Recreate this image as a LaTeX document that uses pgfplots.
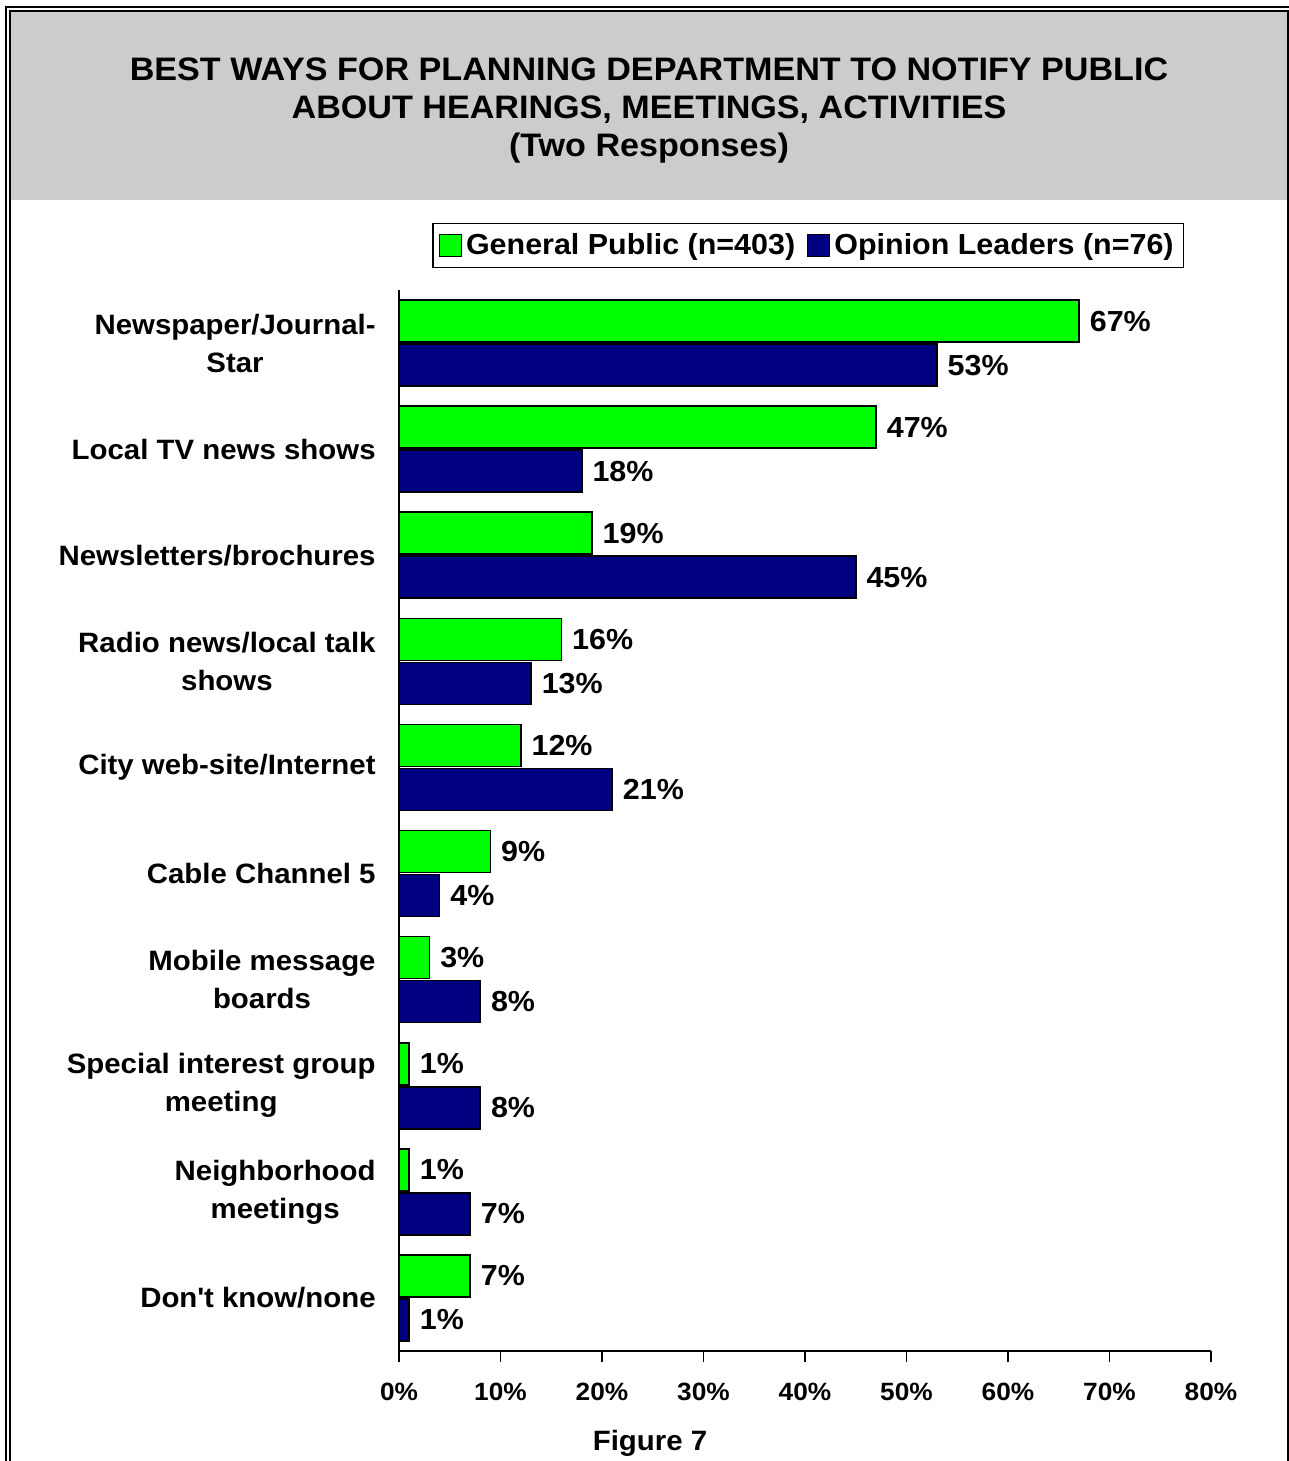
\documentclass[border=0pt]{standalone}
\usepackage{fontspec}
\setmainfont{Liberation Sans}[FakeStretch=1.05]
\usepackage{pgfplots}
\pgfplotsset{compat=1.18}
\definecolor{gpgreen}{HTML}{00FF00}
\definecolor{olnavy}{HTML}{000080}
\definecolor{titlegray}{HTML}{CCCCCC}
\begin{document}
\begin{tikzpicture}
\useasboundingbox (0,0) rectangle (644.5pt,-730.5pt);
\begin{scope}
\clip (0,0) rectangle (644.5pt,-730.5pt);
\fill[titlegray] (5.5pt,-6pt) rectangle (643.5pt,-100pt);
\draw[line width=1pt] (3pt,-3.5pt) rectangle (650pt,-740pt);
\draw[line width=1pt] (5pt,-5.5pt) rectangle (644pt,-740pt);
\end{scope}
\node[align=center, font=\bfseries\fontsize{16.25}{19}\selectfont] at (324.5pt,-55.3pt)
  {BEST WAYS FOR PLANNING DEPARTMENT TO NOTIFY PUBLIC\\ABOUT HEARINGS, MEETINGS, ACTIVITIES\\(Two Responses)};
\begin{axis}[
  scale only axis, width=406pt, height=530.5pt,
  at={(199.5pt,-675.5pt)}, anchor=south west,
  xbar, xmin=0, xmax=80, ymin=-0.5, ymax=9.5, y dir=reverse,
  axis x line*=bottom, axis y line*=left,
  axis line style={line width=1pt},
  xtick={0,10,...,80},
  /pgf/number format/assume math mode=true,
  xticklabel={\pgfmathprintnumber{\tick}\%},
  xticklabel style={font=\bfseries\fontsize{12.5}{14}\selectfont, yshift=-7pt},
  tick align=outside, major tick length=5.5pt,
  xtick style={black, line width=0.6pt},
  ytick={0,...,9},
  yticklabels={{Newspaper/Journal-\\Star},{Local TV news shows},{Newsletters/brochures},{Radio news/local talk\\shows},{City web-site/Internet},{Cable Channel 5},{Mobile message\\boards},{Special interest group\\meeting},{Neighborhood\\meetings},{Don\textquotesingle t know/none}},
  ytick style={draw=none},
  yticklabel style={align=center, font=\bfseries\fontsize{14}{19}\selectfont, inner sep=0pt, xshift=-6pt},
  bar width=21pt,
  point meta=x,
  nodes near coords={\pgfmathprintnumber{\pgfplotspointmeta}\%},
  nodes near coords style={font=\bfseries\fontsize{14.5}{16}\selectfont, anchor=west, inner sep=0pt, xshift=5pt},
  legend style={at={(0.504,1)}, anchor=south, yshift=11pt, legend columns=2, draw=black, line width=0.7pt,
    font=\bfseries\fontsize{14.5}{16}\selectfont, inner sep=3pt,
    /tikz/every even column/.append style={column sep=4pt}},
  legend image code/.code={\draw[#1, line width=0.6pt] (0pt,-5.5pt) rectangle (11pt,5.5pt);},
]
\addplot[fill=gpgreen, draw=black, line width=0.8pt, bar shift=11pt] coordinates {(67,0) (47,1) (19,2) (16,3) (12,4) (9,5) (3,6) (1,7) (1,8) (7,9)};
\addplot[fill=olnavy, draw=black, line width=0.8pt, bar shift=-11pt] coordinates {(53,0) (18,1) (45,2) (13,3) (21,4) (4,5) (8,6) (8,7) (7,8) (1,9)};
\legend{General Public (n=403), Opinion Leaders (n=76)}
\end{axis}
\node[font=\bfseries\fontsize{14}{16}\selectfont] at (325pt,-721.5pt) {Figure 7};
\end{tikzpicture}
\end{document}
